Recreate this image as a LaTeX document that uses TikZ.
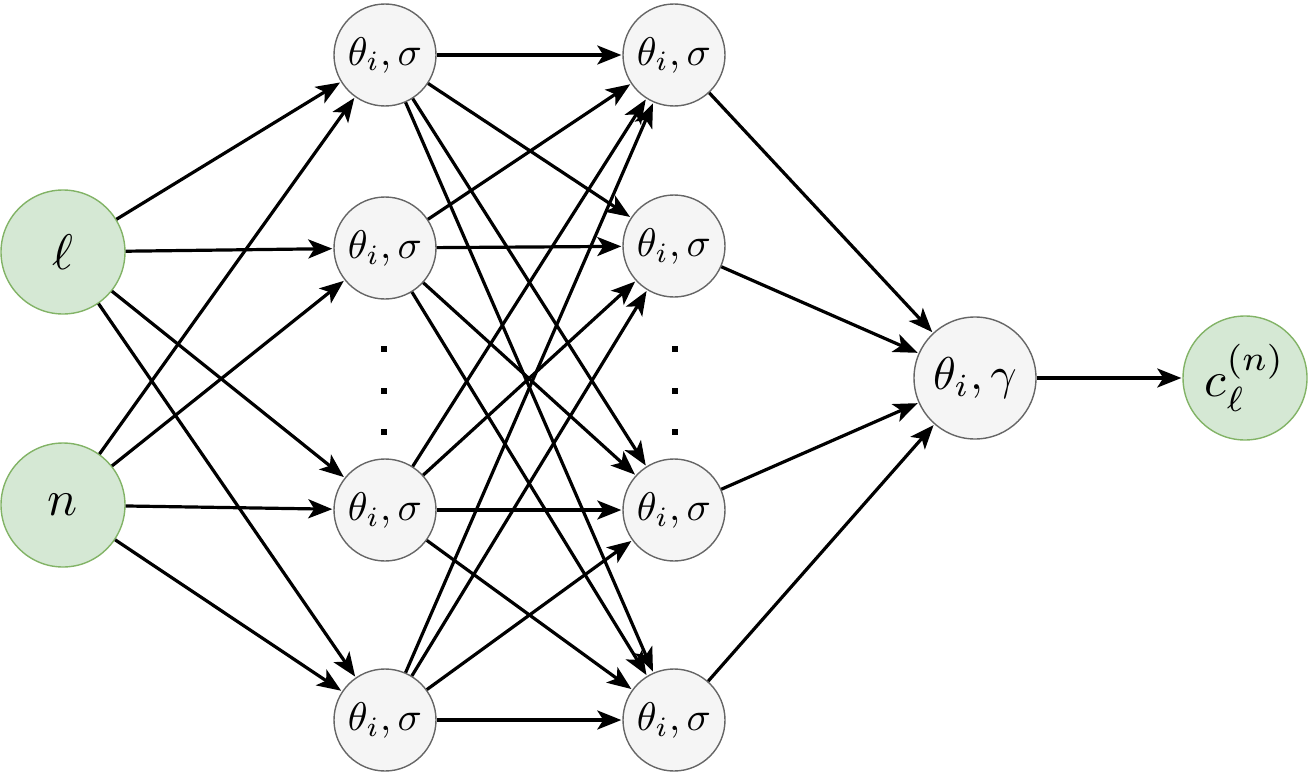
\documentclass[tikz,border=0pt]{standalone}
\usepackage{graphicx}
\usetikzlibrary{arrows.meta}
\definecolor{gfill}{HTML}{D5E8D4}
\definecolor{gline}{HTML}{82B366}
\definecolor{hfill}{HTML}{F5F5F5}
\definecolor{hline}{HTML}{666666}
\newcommand{\bigtxt}[2]{\scalebox{#1}{#2}}
\tikzset{
  innode/.style={circle,draw=gline,fill=gfill,line width=1.4pt,minimum size=124pt,inner sep=0pt},
  hidnode/.style={circle,draw=hline,fill=hfill,line width=1.4pt,minimum size=102pt,inner sep=0pt},
  gamnode/.style={circle,draw=hline,fill=hfill,line width=1.4pt,minimum size=122pt,inner sep=0pt},
  conn/.style={line width=3.2pt,-{Stealth[length=24pt,width=19pt,inset=6pt]},shorten >=1pt},
  dotmark/.style={fill=black,draw=none,minimum size=5.5pt,inner sep=0pt,rectangle}
}
\begin{document}
\begin{tikzpicture}[x=1pt,y=-1pt]
\useasboundingbox (0,0) rectangle (1308,776);
\node[innode] (l) at (63,252) {\bigtxt{5}{$\ell$}};
\node[innode] (n) at (63,505) {\bigtxt{5}{$n$}};
\node[hidnode] (a1) at (385,55) {\bigtxt{4}{$\theta_i,\sigma$}};
\node[hidnode] (a2) at (385,248) {\bigtxt{4}{$\theta_i,\sigma$}};
\node[hidnode] (a3) at (385,510) {\bigtxt{4}{$\theta_i,\sigma$}};
\node[hidnode] (a4) at (385,720) {\bigtxt{4}{$\theta_i,\sigma$}};
\node[hidnode] (b1) at (674,55) {\bigtxt{4}{$\theta_i,\sigma$}};
\node[hidnode] (b2) at (674,246) {\bigtxt{4}{$\theta_i,\sigma$}};
\node[hidnode] (b3) at (674,510) {\bigtxt{4}{$\theta_i,\sigma$}};
\node[hidnode] (b4) at (674,720) {\bigtxt{4}{$\theta_i,\sigma$}};
\node[gamnode] (g) at (975,378) {\bigtxt{4.6}{$\theta_i,\gamma$}};
\node[innode] (c) at (1245,378) {\bigtxt{5}{$c_\ell^{(n)}$}};
\foreach \y [count=\k] in {349,391,432}{
  \node[dotmark] (da\k) at (384,\y) {};
  \node[dotmark] (db\k) at (675,\y) {};
}
\foreach \s in {l,n}{
  \foreach \t in {a1,a2,a3,a4}{
    \draw[conn] (\s) -- (\t);
  }
}
\foreach \s in {a1,a2,a3,a4}{
  \foreach \t in {b1,b2,b3,b4}{
    \draw[conn] (\s) -- (\t);
  }
}
\foreach \s in {b1,b2,b3,b4}{
  \draw[conn] (\s) -- (g);
}
\draw[conn] (g) -- (c);
\end{tikzpicture}
\end{document}
